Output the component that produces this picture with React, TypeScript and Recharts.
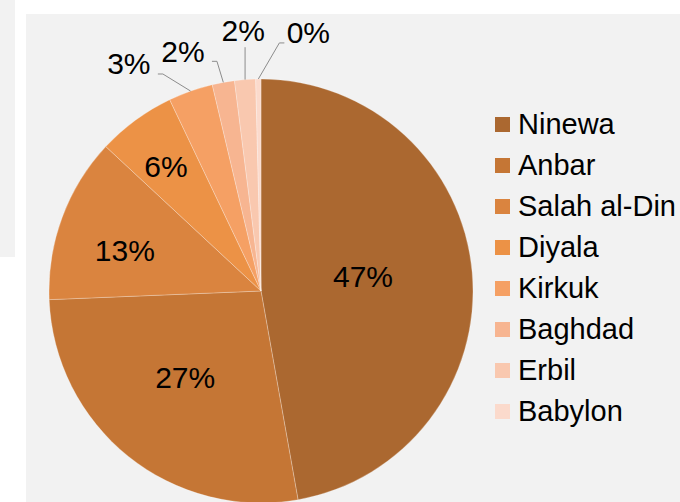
import React from "react";
import { PieChart, Pie, Cell } from "recharts";

const provinces = [
  "Ninewa",
  "Anbar",
  "Salah al-Din",
  "Diyala",
  "Kirkuk",
  "Baghdad",
  "Erbil",
  "Babylon",
];
const shares = [47.3, 27.2, 12.6, 6.0, 3.4, 1.7, 1.6, 0.4];
const colors = [
  "#AB6830",
  "#C57635",
  "#DA843F",
  "#EC9246",
  "#F5A064",
  "#F7B591",
  "#F9C8AF",
  "#FBDACC",
];

const data = provinces.map((name, i) => ({ name, value: shares[i] }));

// label placement: radius as share of outer radius, angle nudge (deg, clockwise)
const labelRadius = [0.486, 0.542, 0.67, 0.74, 1.239, 1.189, 1.233, 1.24];
const labelShift = [-3, 2.5, -3.7, -1, -10.8, -7.8, 0.4, 11.1];

const FONT = "'Liberation Sans', Arial, Helvetica, sans-serif";
const RAD = Math.PI / 180;

const renderLabel = (props: any) => {
  const { cx, cy, midAngle, outerRadius, percent, index } = props;
  const text = `${Math.round(percent * 100)}%`;
  const ang = (midAngle - labelShift[index]) * RAD;
  const r = outerRadius * labelRadius[index];
  const lx = cx + r * Math.cos(ang);
  const ly = cy - r * Math.sin(ang);
  const label = (
    <text
      x={lx}
      y={ly}
      fill="#000"
      fontSize={30}
      fontFamily={FONT}
      textAnchor="middle"
      dominantBaseline="central"
    >
      {text}
    </text>
  );
  if (index < 4) return <g key={`l${index}`}>{label}</g>;

  const ex = cx + outerRadius * Math.cos(midAngle * RAD);
  const ey = cy - outerRadius * Math.sin(midAngle * RAD);
  const hw = 23;
  let pts = "";
  if (labelShift[index] < -1) {
    const y = ly + 10;
    pts = `${lx + hw + 6},${y} ${lx + hw + 11},${y} ${ex},${ey}`;
  } else if (labelShift[index] > 1) {
    const y = ly + 10.5;
    pts = `${lx - hw - 1},${y} ${lx - hw - 6},${y} ${ex},${ey}`;
  } else {
    pts = `${ex},${ly + 17} ${ex},${ey}`;
  }
  return (
    <g key={`l${index}`}>
      <polyline points={pts} fill="none" stroke="#8c8c8c" strokeWidth={1} />
      {label}
    </g>
  );
};

function ProvinceLegend() {
  return (
    <div
      style={{
        position: "absolute",
        left: 469,
        top: 90,
        fontFamily: FONT,
      }}
    >
      {provinces.map((name, i) => (
        <div
          key={name}
          style={{
            display: "flex",
            alignItems: "center",
            height: 41,
            whiteSpace: "nowrap",
          }}
        >
          <span
            style={{
              display: "inline-block",
              width: 15,
              height: 15,
              background: colors[i],
              marginRight: 8,
            }}
          />
          <span style={{ fontSize: 29, color: "#000" }}>{name}</span>
        </div>
      ))}
    </div>
  );
}

export default function App() {
  return (
    <div
      style={{
        position: "absolute",
        left: 0,
        top: 0,
        width: 680,
        height: 502,
        background: "#ffffff",
        overflow: "hidden",
      }}
    >
      <div
        style={{
          position: "absolute",
          left: 0,
          top: 0,
          width: 15,
          height: 257,
          background: "#f2f2f2",
        }}
      />
      <div
        style={{
          position: "absolute",
          left: 26,
          top: 14,
          width: 654,
          height: 488,
          background: "#f2f2f2",
        }}
      >
        <PieChart
          width={654}
          height={488}
          margin={{ top: 0, right: 0, bottom: 0, left: 0 }}
        >
          <Pie
            data={data}
            dataKey="value"
            nameKey="name"
            cx={235}
            cy={277}
            outerRadius={212}
            startAngle={90}
            endAngle={-270}
            stroke="rgba(255,255,255,0.35)"
            strokeWidth={0.75}
            label={renderLabel}
            labelLine={false}
            isAnimationActive={false}
          >
            {data.map((d, i) => (
              <Cell key={d.name} fill={colors[i]} />
            ))}
          </Pie>
        </PieChart>
        <ProvinceLegend />
      </div>
    </div>
  );
}
